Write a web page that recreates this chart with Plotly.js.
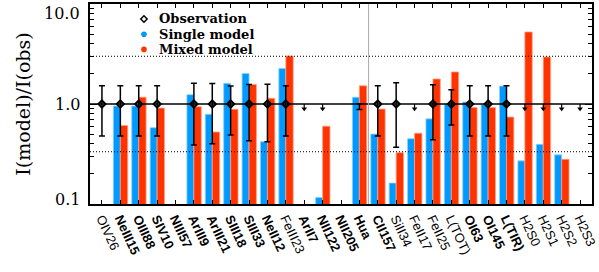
<!DOCTYPE html>
<html>
<head>
<meta charset="utf-8">
<script src="https://cdn.plot.ly/plotly-3.0.1.min.js"></script>
<style>html,body{margin:0;padding:0;background:#fff;}#chart{width:599px;height:272px;}</style>
</head>
<body>
<div id="chart"></div>
<script>
// ---- data ----
var lines = ['OIV26','NeIII15','OIII88','SIV10','NIII57','ArIII9','ArIII21','SIII18','SIII33','NeII12','FeIII23',
             'ArII7','NII122','NII205','Hua','CII157','SiII34','FeII17','FeII25','L(TOT)','OI63','OI145','L(TIR)',
             'H2S0','H2S1','H2S2','H2S3'];
var boldLabel = [0,1,1,1,1,1,1,1,1,1,0, 1,1,1,1,1,0,0,0,0,1,1,1, 0,0,0,0];
var singleModel = [null,0.955,0.955,0.58,null,1.24,0.79,1.61,2.02,0.42,2.27,
                   null,0.116,null,1.17,0.50,0.162,0.45,0.71,1.0,1.05,0.99,1.51,
                   0.27,0.395,0.31,null];
var mixedModel  = [null,0.61,1.17,0.91,null,0.94,0.525,0.885,1.57,1.14,3.02,
                   null,0.60,null,1.52,0.89,0.326,0.51,1.78,2.09,0.92,0.92,0.74,
                   5.25,2.95,0.28,null];
// observation (ratio = 1) with its error, null = not observed
var obsError    = [0.52,0.52,0.52,0.52,null,0.61,0.60,0.51,0.57,0.58,0.52,
                   null,null,null,null,0.52,0.63,null,0.56,0.385,0.52,0.52,0.52,
                   null,null,null,null];
// small one-sided error (Hua)
var smallErrIdx = [14];
var smallErrMinus = [0.12];
// upper limits (down arrows at ratio 1)
var upperLimitIdx = [11,12,17,23,24,25,26];
var refLevels = [3, 1/3];

// ---- build traces ----
var idx = lines.map(function(_, i){ return i; });
var obsX = [], obsY = [], obsE = [];
obsError.forEach(function(e, i){ if (e !== null) { obsX.push(i); obsY.push(1); obsE.push(e); } });
var limY = upperLimitIdx.map(function(){ return 1; });
var arrowLen = 0.12;

var BLUE = '#0099ff', RED = '#ff3300';
var traces = [
  { type:'bar', x: idx, y: singleModel, width: 0.38, offset: -0.38,
    marker:{ color: BLUE, line:{ color:'#8fd0ff', width:0.8 } }, name:'Single model', showlegend:false, hoverinfo:'y' },
  { type:'bar', x: idx, y: mixedModel, width: 0.40, offset: 0,
    marker:{ color: RED, line:{ color:'#ffa080', width:0.8 } }, name:'Mixed model', showlegend:false, hoverinfo:'y' },
  { type:'scatter', mode:'markers', x: obsX, y: obsY, name:'Observation', showlegend:false,
    marker:{ symbol:'diamond-open', size:5.5, color:'#000', line:{ width:2, color:'#000' } },
    error_y:{ type:'data', array: obsE, symmetric:true, color:'#000', thickness:1.5, width:3 } },
  { type:'scatter', mode:'markers', x: smallErrIdx, y: smallErrIdx.map(function(){return 1;}), showlegend:false,
    marker:{ size:1, color:'rgba(0,0,0,0)' },
    error_y:{ type:'data', symmetric:false, array: smallErrIdx.map(function(){return 0;}), arrayminus: smallErrMinus,
              color:'#000', thickness:1.5, width:3 } },
  { type:'scatter', mode:'markers', x: upperLimitIdx, y: limY, showlegend:false,
    marker:{ size:1, color:'rgba(0,0,0,0)' },
    error_y:{ type:'data', symmetric:false, array: limY.map(function(){return 0;}),
              arrayminus: limY.map(function(v){return v*arrowLen;}), color:'#000', thickness:1.2, width:0 } },
  { type:'scatter', mode:'markers', x: upperLimitIdx, y: limY.map(function(v){return v*(1-arrowLen*0.85);}), showlegend:false,
    marker:{ symbol:'triangle-down', size:5, color:'#000' } }
];

// ---- layout ----
var serif = 'DejaVu Serif, serif';
var ticktext = lines.map(function(s, i){ return boldLabel[i] ? '<b>' + s + '</b>' : s; });
var minorVals = [];
[0.1, 1].forEach(function(d){ for (var k = 2; k <= 9; k++) minorVals.push(k*d); });

var shapes = [
  { type:'line', xref:'paper', x0:0, x1:1, yref:'y', y0:1, y1:1, line:{ color:'#000', width:1.5 } },
  { type:'line', xref:'x', x0:14.5, x1:14.5, yref:'paper', y0:0, y1:1, line:{ color:'#aaaaaa', width:1 } }
];
refLevels.forEach(function(v){
  shapes.push({ type:'line', xref:'paper', x0:0, x1:1, yref:'y', y0:v, y1:v,
                line:{ color:'#000', width:1, dash:'1px,2px' } });
});
// legend symbols
var legX = 0.1075, legY = [0.925, 0.849, 0.773];
shapes.push({ type:'path', xref:'paper', yref:'paper', xsizemode:'pixel', ysizemode:'pixel',
              xanchor:legX, yanchor:legY[0], path:'M 0 -3.2 L 3.2 0 L 0 3.2 L -3.2 0 Z',
              line:{ color:'#000', width:1.5 }, fillcolor:'rgba(0,0,0,0)' });
shapes.push({ type:'circle', xref:'paper', yref:'paper', xsizemode:'pixel', ysizemode:'pixel',
              xanchor:legX, yanchor:legY[1], x0:-2.8, x1:2.8, y0:-2.8, y1:2.8, line:{ width:0 }, fillcolor:BLUE });
shapes.push({ type:'circle', xref:'paper', yref:'paper', xsizemode:'pixel', ysizemode:'pixel',
              xanchor:legX, yanchor:legY[2], x0:-2.8, x1:2.8, y0:-2.8, y1:2.8, line:{ width:0 }, fillcolor:RED });

var legFont = { family: serif, size: 13, color:'#000', weight:'bold' };
var annotations = [
  { text:'Observation', xref:'paper', yref:'paper', x:0.1327, y:legY[0], xanchor:'left', yanchor:'middle', showarrow:false, font:legFont },
  { text:'Single model', xref:'paper', yref:'paper', x:0.1327, y:legY[1], xanchor:'left', yanchor:'middle', showarrow:false, font:legFont },
  { text:'Mixed model', xref:'paper', yref:'paper', x:0.1327, y:legY[2], xanchor:'left', yanchor:'middle', showarrow:false, font:legFont }
];
// y tick labels (placed like the reference: end labels pulled inward)
var yTickVals = [10, 1, 0.1], yTickText = ['10.0', '1.0', '0.1'], yTickShift = [-9, 0, 4.5];
yTickVals.forEach(function(v, i){
  annotations.push({ text: yTickText[i], xref:'paper', x:0, xanchor:'right', xshift:-8,
    yref:'y', y:Math.log10(v), yanchor:'middle', yshift: yTickShift[i], showarrow:false,
    font:{ family: serif, size:16, color:'#000' } });
});

var layout = {
  width:599, height:272,
  margin:{ l:90, r:6.5, t:4, b:68 },
  paper_bgcolor:'#fff', plot_bgcolor:'#fff',
  barmode:'overlay', bargap:0,
  showlegend:false,
  xaxis:{ range:[-0.65, 26.65], tickmode:'array', tickvals: idx, ticktext: ticktext, tickangle:65,
          ticks:'inside', ticklen:4, tickwidth:1, tickcolor:'#000', mirror:'ticks',
          showline:true, linecolor:'#000', linewidth:2, showgrid:false, zeroline:false,
          tickfont:{ family:'Liberation Sans, Arial, sans-serif', size:13, color:'#000' } },
  yaxis:{ type:'log', range:[-1, 1], tickmode:'array', tickvals:yTickVals, showticklabels:false,
          ticks:'inside', ticklen:7, tickwidth:1, tickcolor:'#000', mirror:'ticks',
          minor:{ tickmode:'array', tickvals:minorVals, ticks:'inside', ticklen:4, tickwidth:1, tickcolor:'#000', showgrid:false },
          showline:true, linecolor:'#000', linewidth:2, showgrid:false, zeroline:false,
          title:{ text:'I(model)/I(obs)', font:{ family: serif, size:19, color:'#000' }, standoff:52 },
          automargin:false },
  shapes: shapes,
  annotations: annotations
};

Plotly.newPlot('chart', traces, layout, { staticPlot:true, displayModeBar:false });
</script>
</body>
</html>
